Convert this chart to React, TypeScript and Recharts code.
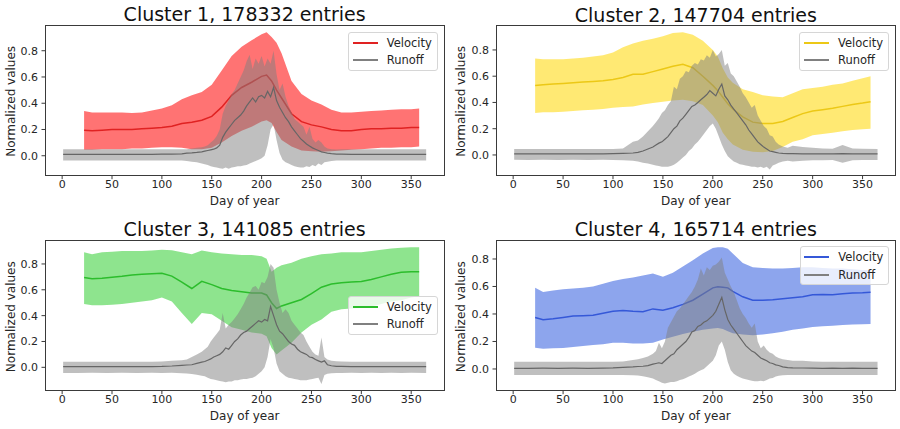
import { ComposedChart, Area, Line, XAxis, YAxis } from "recharts";

// Day-of-year grids the two series are sampled on
const velDays = [
  22, 30, 40, 50, 60, 70, 80, 90, 100,
  110, 120, 130, 140, 150, 160, 170, 180, 190,
  200, 205, 210, 215, 220, 230, 240,
  250, 260, 270, 280, 290, 300, 310, 320, 330, 340, 350, 358,
];

const runoffDays = [
  1, 15, 30, 45, 60, 75, 90, 100, 110, 120,
  125, 130, 135, 140,
  143, 146, 149, 152, 155, 158,
  161, 164, 167, 170, 173, 176,
  179, 182, 185, 188, 191, 194,
  197, 200, 203, 206, 209, 212,
  215, 218, 221, 224, 227, 230,
  233, 236, 239, 242, 245, 248,
  251, 254, 257, 260, 263, 266,
  270, 275, 280, 290, 300, 310, 320, 330, 340, 350, 365,
];

const X_TICKS = [0, 50, 100, 150, 200, 250, 300, 350];
const Y_TICKS = [0, 0.2, 0.4, 0.6, 0.8];

// ---- Cluster 1 ----
const c1VelMean = [
  0.195, 0.19, 0.195, 0.2, 0.2, 0.2, 0.205, 0.21, 0.215,
  0.225, 0.245, 0.255, 0.27, 0.3, 0.37, 0.46, 0.52, 0.56,
  0.605, 0.615, 0.57, 0.5, 0.44, 0.32, 0.26,
  0.235, 0.22, 0.2, 0.19, 0.19, 0.2, 0.205, 0.205, 0.21, 0.21, 0.215, 0.215,
];
const c1VelHi = [
  0.34, 0.33, 0.33, 0.33, 0.33, 0.325, 0.33, 0.345, 0.36,
  0.385, 0.43, 0.46, 0.485, 0.54, 0.65, 0.76, 0.83, 0.88,
  0.925, 0.94, 0.905, 0.86, 0.78, 0.57, 0.47,
  0.42, 0.39, 0.35, 0.33, 0.33, 0.335, 0.34, 0.345, 0.35, 0.355, 0.355, 0.36,
];
const c1VelLo = [
  0.045, 0.045, 0.05, 0.05, 0.05, 0.055, 0.055, 0.06, 0.065,
  0.065, 0.06, 0.05, 0.05, 0.06, 0.1, 0.15, 0.19, 0.22,
  0.26, 0.27, 0.25, 0.18, 0.12, 0.07, 0.04,
  0.035, 0.03, 0.035, 0.04, 0.045, 0.05, 0.055, 0.06, 0.06, 0.065, 0.065, 0.07,
];
const c1RunMean = [
  0.01, 0.01, 0.011, 0.01, 0.011, 0.01, 0.011, 0.012, 0.013, 0.015,
  0.02, 0.022, 0.025, 0.03,
  0.035, 0.04, 0.045, 0.05, 0.06, 0.08,
  0.14, 0.18, 0.21, 0.24, 0.27, 0.29,
  0.31, 0.34, 0.38, 0.41, 0.44, 0.41,
  0.45, 0.46, 0.44, 0.49, 0.45, 0.52,
  0.42, 0.37, 0.33, 0.29, 0.26, 0.22,
  0.19, 0.16, 0.13, 0.11, 0.09, 0.075,
  0.06, 0.05, 0.04, 0.03, 0.025, 0.02,
  0.016, 0.013, 0.012, 0.011, 0.011, 0.01, 0.011, 0.01, 0.011, 0.01, 0.01,
];
const c1RunHi = [
  0.049, 0.05, 0.049, 0.05, 0.049, 0.05, 0.05, 0.05, 0.05, 0.05,
  0.05, 0.055, 0.06, 0.065,
  0.07, 0.08, 0.1, 0.12, 0.15, 0.2,
  0.32, 0.38, 0.42, 0.47, 0.5, 0.55,
  0.6, 0.65, 0.72, 0.77, 0.66, 0.74,
  0.7, 0.76, 0.68, 0.74, 0.7, 0.8,
  0.62, 0.5, 0.55, 0.45, 0.38, 0.33,
  0.28, 0.26, 0.24, 0.22, 0.16, 0.22,
  0.13, 0.1, 0.12, 0.1, 0.07, 0.055,
  0.05, 0.048, 0.05, 0.049, 0.05, 0.049, 0.05, 0.05, 0.049, 0.05, 0.049,
];
const c1RunLo = [
  -0.036, -0.037, -0.036, -0.037, -0.036, -0.037, -0.036, -0.036, -0.036, -0.037,
  -0.04, -0.045, -0.05, -0.06,
  -0.065, -0.07, -0.08, -0.085, -0.09, -0.095,
  -0.1, -0.09, -0.1, -0.09, -0.085, -0.08,
  -0.08, -0.075, -0.07, -0.06, -0.05, -0.04,
  -0.03, -0.02, 0.0, 0.08, 0.2, 0.24,
  0.12, 0.02, -0.03, -0.05, -0.06, -0.07,
  -0.08, -0.085, -0.09, -0.09, -0.08, -0.085,
  -0.07, -0.08, -0.06, -0.07, -0.05, -0.045,
  -0.04, -0.037, -0.036, -0.037, -0.036, -0.037, -0.036, -0.037, -0.036, -0.037, -0.036,
];

// ---- Cluster 2 ----
const c2VelMean = [
  0.53, 0.535, 0.54, 0.545, 0.55, 0.555, 0.56, 0.565, 0.575,
  0.59, 0.615, 0.615, 0.635, 0.655, 0.675, 0.69, 0.665, 0.6,
  0.53, 0.49, 0.44, 0.39, 0.35, 0.29, 0.25,
  0.24, 0.24, 0.255, 0.285, 0.315, 0.335, 0.345, 0.355, 0.37, 0.385, 0.395, 0.405,
];
const c2VelHi = [
  0.735, 0.73, 0.73, 0.73, 0.735, 0.74, 0.75, 0.76, 0.78,
  0.82, 0.85, 0.87, 0.885, 0.905, 0.93, 0.935, 0.915, 0.87,
  0.8, 0.75, 0.66, 0.59, 0.55, 0.5, 0.48,
  0.455, 0.445, 0.44, 0.47, 0.5, 0.51, 0.52, 0.535, 0.545, 0.565, 0.585, 0.6,
];
const c2VelLo = [
  0.32, 0.325, 0.325, 0.33, 0.335, 0.34, 0.345, 0.35, 0.36,
  0.365, 0.37, 0.385, 0.395, 0.405, 0.415, 0.42, 0.41, 0.38,
  0.3, 0.25, 0.17, 0.12, 0.08, 0.04, 0.025,
  0.02, 0.03, 0.06, 0.1, 0.12, 0.15, 0.16, 0.17, 0.18, 0.19, 0.195, 0.2,
];
const c2RunMean = [
  0.008, 0.008, 0.009, 0.008, 0.009, 0.008, 0.009, 0.01, 0.012, 0.015,
  0.02, 0.03, 0.045, 0.06,
  0.075, 0.09, 0.1, 0.12, 0.14, 0.17,
  0.2, 0.22, 0.26, 0.28, 0.31, 0.34,
  0.37, 0.38, 0.4, 0.42, 0.44, 0.46,
  0.49, 0.47, 0.45, 0.5, 0.54, 0.45,
  0.42, 0.38, 0.35, 0.32, 0.29, 0.26,
  0.23, 0.19, 0.16, 0.13, 0.1, 0.08,
  0.06, 0.045, 0.03, 0.025, 0.02, 0.015,
  0.012, 0.01, 0.01, 0.009, 0.009, 0.008, 0.009, 0.01, 0.008, 0.008, 0.008,
];
const c2RunHi = [
  0.046, 0.046, 0.045, 0.046, 0.046, 0.045, 0.046, 0.046, 0.05, 0.1,
  0.11, 0.14, 0.18, 0.22,
  0.25, 0.28, 0.32, 0.34, 0.38, 0.41,
  0.52, 0.5, 0.58, 0.6, 0.64, 0.63,
  0.68, 0.7, 0.69, 0.73, 0.72, 0.76,
  0.74, 0.8, 0.75, 0.77, 0.8, 0.68,
  0.7, 0.62, 0.6, 0.56, 0.52, 0.47,
  0.44, 0.4, 0.36, 0.38, 0.3, 0.26,
  0.22, 0.2, 0.15, 0.14, 0.1, 0.08,
  0.065, 0.055, 0.07, 0.06, 0.055, 0.05, 0.048, 0.075, 0.05, 0.047, 0.046,
];
const c2RunLo = [
  -0.037, -0.038, -0.037, -0.038, -0.037, -0.038, -0.037, -0.038, -0.04, -0.045,
  -0.05, -0.06, -0.065, -0.075,
  -0.08, -0.085, -0.09, -0.09, -0.09, -0.085,
  -0.075, -0.06, -0.04, -0.02, 0.0, 0.03,
  0.05, 0.08, 0.1, 0.13, 0.16, 0.19,
  0.22, 0.24, 0.2, 0.14, 0.08, 0.03,
  -0.01, -0.03, -0.05, -0.06, -0.07, -0.075,
  -0.08, -0.085, -0.09, -0.09, -0.095, -0.09,
  -0.1, -0.09, -0.11, -0.08, -0.07, -0.06,
  -0.05, -0.045, -0.05, -0.045, -0.04, -0.04, -0.038, -0.06, -0.04, -0.038, -0.038,
];

// ---- Cluster 3 ----
const c3VelMean = [
  0.695, 0.685, 0.69, 0.697, 0.705, 0.715, 0.72, 0.725, 0.728,
  0.706, 0.66, 0.61, 0.665, 0.64, 0.61, 0.595, 0.585, 0.575,
  0.575, 0.56, 0.5, 0.455, 0.475, 0.5, 0.525,
  0.57, 0.62, 0.645, 0.655, 0.66, 0.665, 0.68, 0.7, 0.72, 0.735, 0.74, 0.74,
];
const c3VelHi = [
  0.89, 0.875, 0.89, 0.895, 0.9, 0.9, 0.9, 0.905, 0.91,
  0.907, 0.89, 0.875, 0.905, 0.89, 0.88, 0.875, 0.87, 0.87,
  0.86, 0.84, 0.74, 0.77, 0.79, 0.81, 0.84,
  0.86, 0.875, 0.88, 0.89, 0.89, 0.89, 0.9, 0.91, 0.92, 0.925, 0.93, 0.93,
];
const c3VelLo = [
  0.49, 0.48, 0.48, 0.485, 0.49, 0.5, 0.51, 0.52, 0.54,
  0.51, 0.42, 0.335, 0.42, 0.41, 0.36, 0.31, 0.29, 0.27,
  0.26, 0.24, 0.15, 0.1, 0.13, 0.19, 0.27,
  0.33, 0.37, 0.43, 0.45, 0.455, 0.46, 0.47, 0.49, 0.51, 0.52, 0.54, 0.55,
];
const c3RunMean = [
  0.005, 0.005, 0.006, 0.005, 0.006, 0.005, 0.006, 0.007, 0.01, 0.015,
  0.018, 0.02, 0.03, 0.04,
  0.045, 0.055, 0.065, 0.08, 0.09, 0.1,
  0.12, 0.15, 0.14, 0.17, 0.2, 0.22,
  0.25, 0.27, 0.28, 0.3, 0.32, 0.34,
  0.36, 0.35, 0.37, 0.36, 0.47, 0.4,
  0.33, 0.28, 0.26, 0.23, 0.2, 0.18,
  0.17, 0.14, 0.12, 0.11, 0.1, 0.08,
  0.075, 0.06, 0.05, 0.04, 0.05, 0.02,
  0.012, 0.008, 0.007, 0.006, 0.006, 0.005, 0.006, 0.005, 0.006, 0.005, 0.005,
];
const c3RunHi = [
  0.043, 0.043, 0.044, 0.043, 0.044, 0.043, 0.044, 0.045, 0.05, 0.055,
  0.06, 0.08, 0.1, 0.12,
  0.14, 0.16, 0.2, 0.23, 0.26, 0.29,
  0.42, 0.3, 0.33, 0.35, 0.38, 0.41,
  0.45, 0.49, 0.54, 0.58, 0.62, 0.63,
  0.6, 0.66, 0.65, 0.7, 0.8, 0.77,
  0.6, 0.5, 0.42, 0.45, 0.42, 0.36,
  0.33, 0.3, 0.27, 0.25, 0.2, 0.16,
  0.12, 0.1, 0.09, 0.23, 0.08, 0.06,
  0.05, 0.046, 0.045, 0.044, 0.043, 0.044, 0.043, 0.044, 0.043, 0.044, 0.043,
];
const c3RunLo = [
  -0.044, -0.044, -0.043, -0.044, -0.043, -0.044, -0.043, -0.044, -0.043, -0.045,
  -0.048, -0.052, -0.058, -0.065,
  -0.07, -0.08, -0.09, -0.095, -0.1, -0.105,
  -0.11, -0.115, -0.11, -0.11, -0.1, -0.1,
  -0.095, -0.09, -0.09, -0.085, -0.08, -0.07,
  -0.05, -0.03, 0.0, 0.08, 0.22, 0.15,
  0.03, -0.03, -0.05, -0.07, -0.08, -0.085,
  -0.09, -0.095, -0.1, -0.1, -0.1, -0.095,
  -0.09, -0.085, -0.08, -0.13, -0.06, -0.05,
  -0.045, -0.044, -0.044, -0.043, -0.044, -0.043, -0.044, -0.043, -0.044, -0.043, -0.044,
];

// ---- Cluster 4 ----
const c4VelMean = [
  0.375, 0.358, 0.365, 0.375, 0.385, 0.388, 0.39, 0.405, 0.42,
  0.425, 0.42, 0.417, 0.437, 0.427, 0.445, 0.47, 0.5, 0.545,
  0.59, 0.598, 0.595, 0.59, 0.565, 0.525, 0.5,
  0.5, 0.503, 0.51, 0.518, 0.525, 0.54, 0.542, 0.54, 0.548, 0.553, 0.555, 0.558,
];
const c4VelHi = [
  0.59, 0.56, 0.57, 0.58, 0.585, 0.59, 0.6, 0.62, 0.64,
  0.655, 0.665, 0.68, 0.695, 0.67, 0.7, 0.745, 0.79, 0.84,
  0.88, 0.885, 0.885, 0.875, 0.84, 0.77, 0.74,
  0.735, 0.73, 0.73, 0.735, 0.74, 0.74, 0.735, 0.73, 0.73, 0.725, 0.72, 0.72,
];
const c4VelLo = [
  0.155, 0.148, 0.15, 0.152, 0.16, 0.168, 0.175, 0.18, 0.19,
  0.19, 0.185, 0.185, 0.19, 0.215, 0.235, 0.255, 0.27, 0.285,
  0.295, 0.298, 0.29, 0.275, 0.26, 0.25, 0.245,
  0.25, 0.26, 0.27, 0.285, 0.295, 0.305, 0.31, 0.315, 0.32, 0.323, 0.325, 0.328,
];
const c4RunMean = [
  0.005, 0.005, 0.006, 0.005, 0.006, 0.005, 0.006, 0.008, 0.012, 0.015,
  0.018, 0.02, 0.025, 0.035,
  0.04, 0.045, 0.04, 0.06, 0.08, 0.1,
  0.11, 0.14, 0.16, 0.18, 0.2, 0.23,
  0.27, 0.28, 0.31, 0.32, 0.34, 0.35,
  0.37, 0.39, 0.42, 0.47, 0.52, 0.43,
  0.36, 0.32, 0.29, 0.26, 0.23, 0.2,
  0.17, 0.15, 0.13, 0.12, 0.1, 0.08,
  0.07, 0.06, 0.045, 0.04, 0.03, 0.025,
  0.015, 0.01, 0.008, 0.007, 0.006, 0.005, 0.006, 0.005, 0.006, 0.005, 0.005,
];
const c4RunHi = [
  0.053, 0.053, 0.052, 0.053, 0.052, 0.053, 0.052, 0.053, 0.055, 0.065,
  0.07, 0.08, 0.09, 0.11,
  0.13, 0.19, 0.15, 0.2, 0.3, 0.34,
  0.38, 0.42, 0.44, 0.47, 0.5, 0.53,
  0.56, 0.6, 0.65, 0.73, 0.68, 0.74,
  0.72, 0.75, 0.76, 0.78, 0.81, 0.7,
  0.65, 0.6, 0.56, 0.5, 0.44, 0.4,
  0.37, 0.33, 0.3, 0.33, 0.2, 0.15,
  0.17, 0.14, 0.12, 0.11, 0.09, 0.08,
  0.07, 0.065, 0.06, 0.06, 0.055, 0.053, 0.052, 0.053, 0.052, 0.053, 0.052,
];
const c4RunLo = [
  -0.044, -0.044, -0.043, -0.044, -0.043, -0.044, -0.043, -0.044, -0.044, -0.045,
  -0.048, -0.052, -0.06, -0.07,
  -0.08, -0.09, -0.1, -0.105, -0.1, -0.095,
  -0.095, -0.09, -0.08, -0.075, -0.065, -0.055,
  -0.045, -0.035, -0.02, -0.01, 0.0, 0.02,
  0.04, 0.06, 0.1, 0.17, 0.2, 0.14,
  0.05, -0.01, -0.035, -0.05, -0.06, -0.07,
  -0.075, -0.08, -0.085, -0.09, -0.09, -0.085,
  -0.09, -0.08, -0.07, -0.065, -0.055, -0.05,
  -0.045, -0.044, -0.044, -0.043, -0.044, -0.043, -0.044, -0.043, -0.044, -0.043, -0.044,
];

const FONT = '"DejaVu Sans", Verdana, sans-serif';
const INK = "#262626";
const SPINE = "#3a3a3a";
const RUN_FILL = "#808080";
const RUN_LINE = "#666666";
const RUN_KEY = "#808080";
const X_DOMAIN: [number, number] = [-17.2, 383.2];
const W = 450;
const H = 215;

const panels = [
  {
    title: "Cluster 1, 178332 entries",
    velMean: c1VelMean, velHi: c1VelHi, velLo: c1VelLo,
    runMean: c1RunMean, runHi: c1RunHi, runLo: c1RunLo,
    fill: "#ff0000", fillOpacity: 0.55, line: "#e02222",
    yDomain: [-0.152, 0.996],
    ox: 0, oy: 0, plot: { left: 45, top: 25, right: 444.3, bottom: 175.7 },
    legend: { left: 348, top: 31.7 }, titleY: 21, xLabelY: 205,
  },
  {
    title: "Cluster 2, 147704 entries",
    velMean: c2VelMean, velHi: c2VelHi, velLo: c2VelLo,
    runMean: c2RunMean, runHi: c2RunHi, runLo: c2RunLo,
    fill: "#ffd700", fillOpacity: 0.55, line: "#ecc816",
    yDomain: [-0.158, 0.99],
    ox: 450, oy: 0, plot: { left: 496, top: 25, right: 895.7, bottom: 175.7 },
    legend: { left: 349.3, top: 31.7 }, titleY: 21.5, xLabelY: 205,
  },
  {
    title: "Cluster 3, 141085 entries",
    velMean: c3VelMean, velHi: c3VelHi, velLo: c3VelLo,
    runMean: c3RunMean, runHi: c3RunHi, runLo: c3RunLo,
    fill: "#32cd32", fillOpacity: 0.55, line: "#2cbd2c",
    yDomain: [-0.181, 0.98],
    ox: 0, oy: 214, plot: { left: 45, top: 240.7, right: 444.3, bottom: 390.7 },
    legend: { left: 348, top: 81.7 }, titleY: 235.5, xLabelY: 419.5,
  },
  {
    title: "Cluster 4, 165714 entries",
    velMean: c4VelMean, velHi: c4VelHi, velLo: c4VelLo,
    runMean: c4RunMean, runHi: c4RunHi, runLo: c4RunLo,
    fill: "#4169e1", fillOpacity: 0.6, line: "#3558d8",
    yDomain: [-0.158, 0.933],
    ox: 450, oy: 214, plot: { left: 496, top: 240.7, right: 895.7, bottom: 390.7 },
    legend: { left: 349.5, top: 32 }, titleY: 236, xLabelY: 419.5,
  },
];

type PanelSpec = (typeof panels)[number];

function LegendBox({ p }: { p: PanelSpec }) {
  const rows = [
    { label: "Velocity", color: p.line, top: 3 },
    { label: "Runoff", color: RUN_KEY, top: 20.6 },
  ];
  return (
    <div
      style={{
        position: "absolute",
        left: p.legend.left,
        top: p.legend.top,
        width: 89.6,
        height: 39.3,
        boxSizing: "border-box",
        border: "1px solid #d6d6d6",
        borderRadius: 3,
        background: "rgba(255,255,255,0.8)",
      }}
    >
      {rows.map((r) => (
        <div
          key={r.label}
          style={{ position: "absolute", left: 3.7, top: r.top, height: 14, width: 84 }}
        >
          <div
            style={{
              position: "absolute",
              left: 0,
              top: 6,
              width: 25,
              height: 2,
              background: r.color,
            }}
          />
          <div
            style={{
              position: "absolute",
              left: 34,
              top: 0,
              fontSize: 11.5,
              lineHeight: "14px",
              color: INK,
              whiteSpace: "nowrap",
            }}
          >
            {r.label}
          </div>
        </div>
      ))}
    </div>
  );
}

function Panel({ p }: { p: PanelSpec }) {
  const velRows = velDays.map((day, i) => ({ day, mean: p.velMean[i], band: [p.velLo[i], p.velHi[i]] }));
  const runRows = runoffDays.map((day, i) => ({ day, mean: p.runMean[i], band: [p.runLo[i], p.runHi[i]] }));
  const { ox, oy, plot } = p;

  return (
    <div style={{ position: "absolute", left: ox, top: oy, width: W, height: H }}>
      <ComposedChart
        width={W}
        height={H}
        margin={{ top: plot.top - oy, right: ox + W - plot.right, bottom: 0, left: 0 }}
      >
        <XAxis
          type="number"
          dataKey="day"
          domain={X_DOMAIN}
          ticks={X_TICKS}
          interval={0}
          allowDataOverflow
          height={oy + H - plot.bottom}
          axisLine={false}
          tickSize={3.5}
          tickMargin={1}
          tickLine={{ stroke: SPINE }}
          tick={{ fontSize: 11, fill: INK }}
        />
        <YAxis
          type="number"
          domain={p.yDomain}
          ticks={Y_TICKS}
          interval={0}
          allowDataOverflow
          width={plot.left - ox}
          axisLine={false}
          tickSize={3.5}
          tickMargin={3.5}
          tickLine={{ stroke: SPINE }}
          tick={{ fontSize: 11, fill: INK }}
          tickFormatter={(v: number) => v.toFixed(1)}
        />
        <Area
          data={velRows}
          dataKey="band"
          type="linear"
          stroke="none"
          fill={p.fill}
          fillOpacity={p.fillOpacity}
          isAnimationActive={false}
          activeDot={false}
          zIndex={100}
        />
        <Line
          data={velRows}
          dataKey="mean"
          type="linear"
          stroke={p.line}
          strokeWidth={1.5}
          dot={false}
          activeDot={false}
          isAnimationActive={false}
          zIndex={101}
        />
        <Area
          data={runRows}
          dataKey="band"
          type="linear"
          stroke="none"
          fill={RUN_FILL}
          fillOpacity={0.5}
          isAnimationActive={false}
          activeDot={false}
          zIndex={102}
        />
        <Line
          data={runRows}
          dataKey="mean"
          type="linear"
          stroke={RUN_LINE}
          strokeWidth={1.2}
          dot={false}
          activeDot={false}
          isAnimationActive={false}
          zIndex={103}
        />
      </ComposedChart>
      <div
        style={{
          position: "absolute",
          left: plot.left - ox - 0.5,
          top: plot.top - oy - 0.5,
          width: plot.right - plot.left + 1,
          height: plot.bottom - plot.top + 1,
          boxSizing: "border-box",
          border: `1px solid ${SPINE}`,
          pointerEvents: "none",
        }}
      />
      <LegendBox p={p} />
    </div>
  );
}

export default function App() {
  return (
    <div
      style={{
        position: "absolute",
        left: 0,
        top: 0,
        width: 900,
        height: 429,
        background: "#fff",
        overflow: "hidden",
        fontFamily: FONT,
      }}
    >
      {panels.map((p) => (
        <Panel key={p.title} p={p} />
      ))}
      <svg
        width={900}
        height={429}
        style={{ position: "absolute", left: 0, top: 0, pointerEvents: "none" }}
        fontFamily={FONT}
      >
        {panels.map((p) => {
          const cx = (p.plot.left + p.plot.right) / 2;
          const cy = (p.plot.top + p.plot.bottom) / 2 + 1;
          return (
            <g key={p.title}>
              <text x={cx} y={p.titleY} textAnchor="middle" fontSize={19} fill="#111">
                {p.title}
              </text>
              <text x={cx} y={p.xLabelY} textAnchor="middle" fontSize={12} fill={INK}>
                Day of year
              </text>
              <text
                transform={`translate(${p.ox + 15}, ${cy}) rotate(-90)`}
                textAnchor="middle"
                fontSize={12}
                fill={INK}
              >
                Normalized values
              </text>
            </g>
          );
        })}
      </svg>
    </div>
  );
}
